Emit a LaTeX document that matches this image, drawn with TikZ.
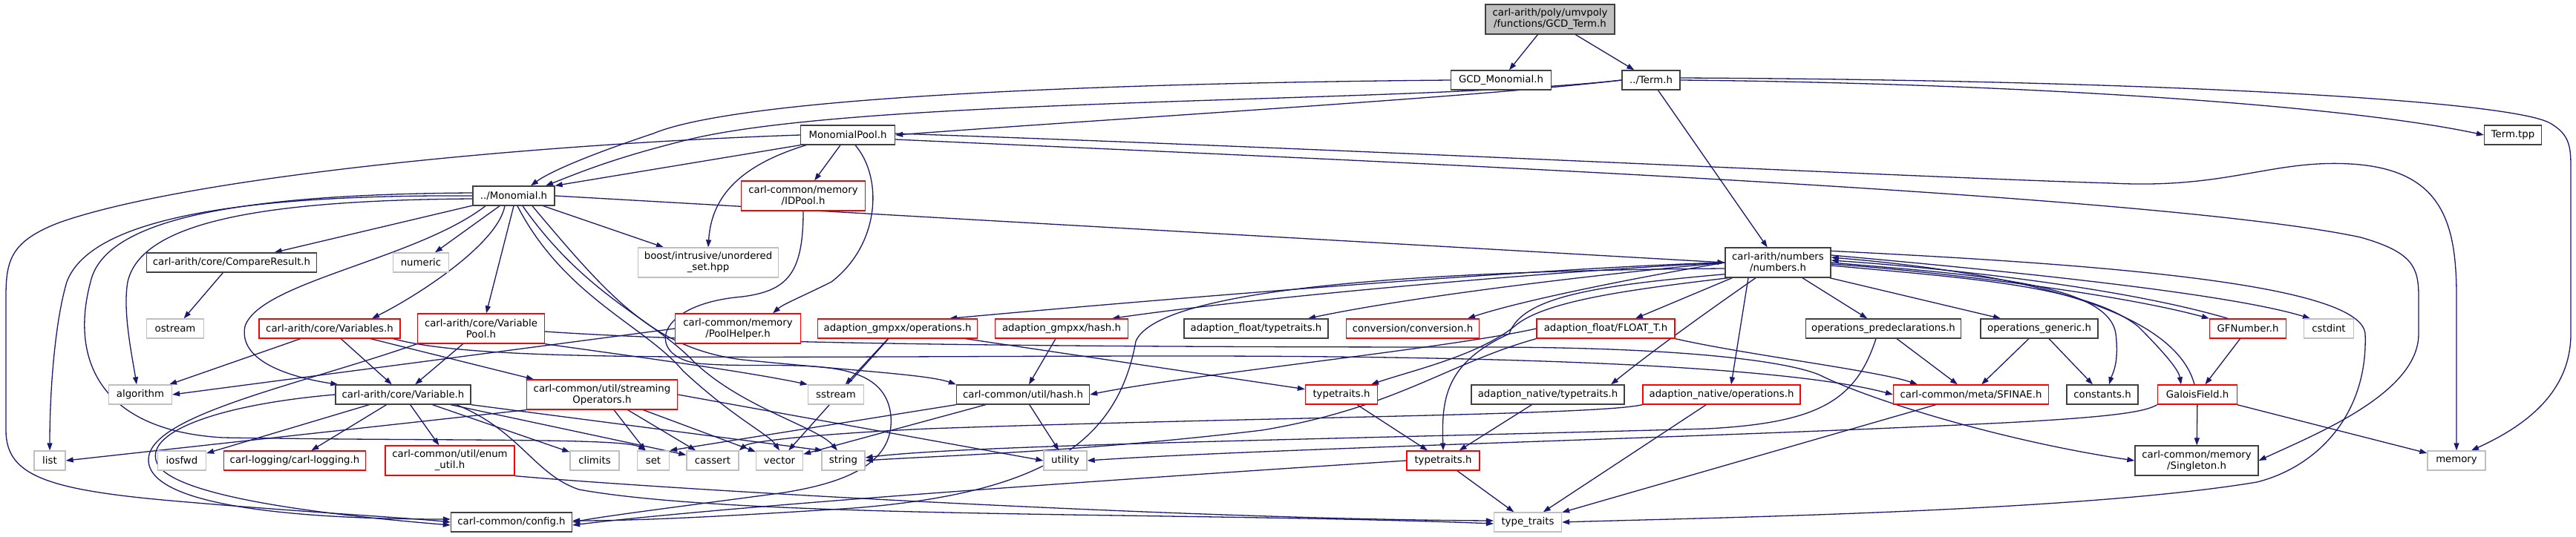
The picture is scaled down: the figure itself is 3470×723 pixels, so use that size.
\documentclass[tikz,border=0pt]{standalone}
\usepackage{fontspec}
\usetikzlibrary{arrows.meta,calc}
\newfontfamily\djfont{DejaVu Sans}
\newcommand\nodefnt{\djfont\fontsize{13.3}{15}\selectfont}
\definecolor{mb}{HTML}{191970}
\definecolor{rd}{HTML}{FF0000}
\definecolor{gy}{HTML}{BFBFBF}
\definecolor{dk}{HTML}{404040}
\pgfdeclarelayer{back}
\pgfdeclarelayer{bg}
\pgfsetlayers{back,bg,main}
\tikzset{
  base/.style={rectangle, inner sep=0pt, minimum height=26pt, font=\nodefnt, line width=1.3pt, align=center, fill=white},
  blk/.style={base, draw=dk},
  rbox/.style={base, draw=rd},
  gbox/.style={base, draw=gy},
  root/.style={base, draw=dk, fill=gy},
  two/.style={minimum height=40pt},
  edg/.style={draw=mb, line width=1.3pt, -{Triangle[length=10pt,width=7pt]}},
}
\begin{document}
\begin{tikzpicture}[x=1pt,y=-1pt]
\begin{pgfonlayer}{back}
\fill[white] (0,0) rectangle (3470,723);
\end{pgfonlayer}
\useasboundingbox (0,0) rectangle (3470,723);
% rank 0
\node[root,two,minimum width=174pt] (gcdterm) at (2088,26) {carl-arith/poly/umvpoly\\/functions/GCD\_Term.h};
% rank 1
\node[blk,minimum width=135pt] (gcdmono) at (2022,108) {GCD\_Monomial.h};
\node[blk,minimum width=78pt] (term) at (2224,108) {../Term.h};
% rank 2
\node[blk,minimum width=127pt] (mpool) at (1142,182) {MonomialPool.h};
\node[blk,minimum width=77pt] (termtpp) at (3385,182) {Term.tpp};
% rank 3
\node[blk,minimum width=110pt] (mono) at (692,264) {../Monomial.h};
\node[rbox,two,minimum width=167pt] (idpool) at (1082,264) {carl-common/memory\\/IDPool.h};
% rank 4
\node[blk,minimum width=229pt] (cmp) at (312,354) {carl-arith/core/CompareResult.h};
\node[gbox,minimum width=75pt] (numeric) at (567,354) {numeric};
\node[gbox,two,minimum width=189pt] (boost) at (954,354) {boost/intrusive/unordered\\\_set.hpp};
\node[blk,two,minimum width=142pt] (numbers) at (2395,354) {carl-arith/numbers\\/numbers.h};
% rank 5
\node[gbox,minimum width=77pt] (ostream) at (236,443) {ostream};
\node[rbox,minimum width=190pt] (vars) at (444,443) {carl-arith/core/Variables.h};
\node[rbox,two,minimum width=171pt] (vpool) at (648,443) {carl-arith/core/Variable\\Pool.h};
\node[rbox,two,minimum width=169pt] (phelper) at (994,443) {carl-common/memory\\/PoolHelper.h};
\node[rbox,minimum width=215pt] (gmpops) at (1209,443) {adaption\_gmpxx/operations.h};
\node[rbox,minimum width=179pt] (gmphash) at (1430,443) {adaption\_gmpxx/hash.h};
\node[blk,minimum width=194pt] (floattt) at (1692,443) {adaption\_float/typetraits.h};
\node[rbox,minimum width=179pt] (conv) at (1903,443) {conversion/conversion.h};
\node[rbox,minimum width=186pt] (floatt) at (2163,443) {adaption\_float/FLOAT\_T.h};
\node[blk,minimum width=209pt] (opspre) at (2537,443) {operations\_predeclarations.h};
\node[blk,minimum width=158pt] (opsgen) at (2747,443) {operations\_generic.h};
\node[rbox,minimum width=103pt] (gfnum) at (3028,443) {GFNumber.h};
\node[gbox,minimum width=67pt] (cstdint) at (3137,443) {cstdint};
% rank 6
\node[gbox,minimum width=85pt] (algorithm) at (189,532) {algorithm};
\node[blk,minimum width=182pt] (var) at (543,532) {carl-arith/core/Variable.h};
\node[rbox,two,minimum width=203pt] (stream) at (811,532) {carl-common/util/streaming\\Operators.h};
\node[gbox,minimum width=75pt] (sstream) at (1126,532) {sstream};
\node[blk,minimum width=179pt] (uhash) at (1378,532) {carl-common/util/hash.h};
\node[rbox,minimum width=97pt] (tt1) at (1807,532) {typetraits.h};
\node[blk,minimum width=206pt] (ntt) at (2085,532) {adaption\_native/typetraits.h};
\node[rbox,minimum width=212pt] (nops) at (2319,532) {adaption\_native/operations.h};
\node[rbox,minimum width=209pt] (sfinae) at (2655,532) {carl-common/meta/SFINAE.h};
\node[blk,minimum width=96pt] (consts) at (2832,532) {constants.h};
\node[rbox,minimum width=107pt] (gf) at (2960,532) {GaloisField.h};
% rank 7
\node[gbox,minimum width=42pt] (list) at (67,621) {list};
\node[gbox,minimum width=65pt] (iosfwd) at (245,621) {iosfwd};
\node[rbox,minimum width=191pt] (logging) at (397,621) {carl-logging/carl-logging.h};
\node[rbox,two,minimum width=174pt] (enumu) at (606,621) {carl-common/util/enum\\\_util.h};
\node[gbox,minimum width=66pt] (climits) at (801,621) {climits};
\node[gbox,minimum width=43pt] (set) at (880,621) {set};
\node[gbox,minimum width=70pt] (cassert) at (960,621) {cassert};
\node[gbox,minimum width=63pt] (vector) at (1050,621) {vector};
\node[gbox,minimum width=58pt] (string) at (1136,621) {string};
\node[gbox,minimum width=58pt] (utility) at (1435,621) {utility};
\node[rbox,minimum width=98pt] (tt2) at (1944,621) {typetraits.h};
\node[blk,two,minimum width=166pt] (singleton) at (2959,621) {carl-common/memory\\/Singleton.h};
\node[gbox,minimum width=78pt] (memory) at (3309,621) {memory};
% rank 8
\node[blk,minimum width=163pt] (config) at (689,704) {carl-common/config.h};
\node[gbox,minimum width=91pt] (typetraits) at (2058,704) {type\_traits};

\begin{pgfonlayer}{bg}
% top
\draw[edg] (gcdterm) -- (gcdmono);
\draw[edg] (gcdterm) -- (term);
\draw[edg] (gcdmono.west) .. controls (1500,112) and (1000,130) .. (880,180) .. controls (790,210) and (740,232) .. ($(mono.north)+(23,0)$);
\draw[edg] (term.west) .. controls (1900,140) and (1150,130) .. (920,190) .. controls (820,215) and (775,235) .. ($(mono.north)+(43,0)$);
\draw[edg] (term.west) .. controls (2000,130) and (1500,160) .. (mpool.east);
\draw[edg] (term) -- (numbers);
\draw[edg] (term.east) .. controls (2700,112) and (3150,140) .. (termtpp.west);
\draw[edg] ($(term.east)+(0,-3)$) .. controls (2900,108) and (3380,135) .. (3435,166) .. controls (3463,182) and (3463,200) .. (3463,230) -- (3463,450) .. controls (3463,530) and (3400,575) .. ($(memory.north)+(20,0)$);
% MonomialPool
\draw[edg] (mpool.south west) -- (mono.north east);
\draw[edg] (mpool) -- (idpool);
\draw[edg] ($(mpool.south west)+(8,0)$) .. controls (990,225) and (958,270) .. (boost.north);
\draw[edg] ($(mpool.south)+(10,0)$) .. controls (1190,240) and (1185,330) .. (1120,380) .. controls (1080,400) and (1055,410) .. ($(phelper.north)+(47,0)$);
\draw[edg] (mpool.west) .. controls (700,195) and (250,240) .. (80,300) .. controls (15,325) and (8,350) .. (8,400) -- (8,580) .. controls (8,640) and (60,660) .. (230,675) .. controls (400,690) and (550,698) .. (config.west);
\draw[edg] ($(mpool.east)+(0,6)$) .. controls (1800,215) and (2900,260) .. (3180,320) .. controls (3250,340) and (3258,360) .. (3258,400) -- (3258,450) .. controls (3258,530) and (3120,585) .. (singleton.east);
\draw[edg] ($(mpool.east)+(0,-2)$) .. controls (1800,200) and (2600,240) .. (2845,247) .. controls (3000,255) and (3060,215) .. (3166,221) .. controls (3290,228) and (3309,300) .. (3309,400) -- (memory.north);
\draw[edg] (idpool.south) .. controls (1082,370) and (1060,392) .. (1000,400) .. controls (880,410) and (870,480) .. (940,490) .. controls (1050,500) and (1190,470) .. (1200,560) .. controls (1205,620) and (1150,650) .. (1050,665) .. controls (900,685) and (820,695) .. (config.east);
% Monomial
\draw[edg] (mono.east) -- (numbers.west);
\draw[edg] (mono) -- (cmp);
\draw[edg] (mono) -- (numeric);
\draw[edg] (mono) -- (boost);
\draw[edg] ($(mono.south)+(-12,0)$) .. controls (670,330) and (560,400) .. ($(vars.north)+(57,0)$);
\draw[edg] (mono.south) -- ($(vpool.north)+(7,0)$);
\draw[edg] ($(mono.south)+(-38,0)$) .. controls (560,350) and (350,380) .. (330,440) .. controls (320,490) and (400,510) .. ($(var.north west)+(4,0)$);
\draw[edg] (mono.west) .. controls (300,262) and (120,300) .. (90,380) .. controls (75,430) and (67,520) .. (list.north);
\draw[edg] ($(mono.west)+(0,4)$) .. controls (350,270) and (190,300) .. (172,380) .. controls (165,420) and (178,480) .. ($(algorithm.north)+(-5,0)$);
\draw[edg] ($(mono.west)+(0,-4)$) .. controls (300,262) and (140,300) .. (122,380) .. controls (95,480) and (130,580) .. (300,590) .. controls (600,595) and (840,590) .. ($(set.north)+(-10,0)$);
\draw[edg] ($(mono.south)+(5,0)$) .. controls (760,400) and (870,440) .. (920,500) .. controls (990,565) and (1035,585) .. (vector.north);
\draw[edg] ($(mono.south)+(12,0)$) .. controls (790,400) and (880,430) .. (935,488) .. controls (1000,550) and (1100,575) .. ($(string.north)+(-8,0)$);
\draw[edg] ($(mono.south)+(25,0)$) .. controls (820,400) and (880,470) .. (1000,485) .. controls (1150,500) and (1250,505) .. (uhash.north west);
\draw[edg] (cmp) -- (ostream);
% Variables / VariablePool / PoolHelper
\draw[edg] (vars) -- (algorithm);
\draw[edg] (vars) -- (var);
\draw[edg] ($(vars.south)+(55,0)$) -- ($(stream.north)+(-92,0)$);
\draw[edg] ($(vars.south east)+(-10,0)$) .. controls (650,490) and (1000,480) .. (1600,480) .. controls (2200,480) and (2450,505) .. (sfinae.west);
\draw[edg] (vpool) -- (var);
\draw[edg] (vpool.south west) .. controls (400,520) and (200,560) .. (200,620) .. controls (200,690) and (450,700) .. ($(config.west)+(0,-4)$);
\draw[edg] (vpool.south east) .. controls (850,480) and (1000,500) .. (sstream.north west);
\draw[edg] ($(vpool.east)+(0,4)$) .. controls (1000,465) and (1500,468) .. (2000,468) .. controls (2250,468) and (2400,485) .. (2450,505) .. controls (2520,540) and (2700,595) .. (singleton.west);
\draw[edg] (phelper.west) -- (algorithm.east);
% Variable
\draw[edg] (var) -- (iosfwd);
\draw[edg] (var) -- (logging);
\draw[edg] (var) -- (enumu);
\draw[edg] (var) -- (climits);
\draw[edg] (var) -- (cassert);
\draw[edg] (var.south east) -- ($(string.north)+(-28,0)$);
\draw[edg] (var.west) .. controls (300,545) and (200,580) .. (210,620) .. controls (220,670) and (450,695) .. ($(config.west)+(0,4)$);
\draw[edg] ($(var.south east)+(-20,0)$) .. controls (700,580) and (720,640) .. (780,660) .. controls (1000,700) and (1600,690) .. ($(typetraits.west)+(0,2)$);
% streamingOperators
\draw[edg] (stream.south west) -- (list.east);
\draw[edg] (stream) -- (set);
\draw[edg] (stream) -- (cassert);
\draw[edg] (stream) -- (vector);
\draw[edg] (stream.east) -- (utility.west);
\draw[edg] (enumu.south east) .. controls (900,660) and (1600,700) .. ($(typetraits.west)+(0,-2)$);
% util/hash
\draw[edg] (uhash) -- (utility);
\draw[edg] (uhash.south west) -- (set.north east);
\draw[edg] (uhash) -- (vector);
% gmpxx
\draw[edg] (gmpops) -- (sstream);
\draw[edg] (gmpops) -- (tt1);
\draw[edg] (gmpops) -- (vector);
\draw[edg] (gmphash) -- (uhash);
% numbers
\draw[edg] (numbers.west) .. controls (2100,360) and (1600,400) .. ($(gmpops.north)+(70,0)$);
\draw[edg] (numbers.west) .. controls (2100,365) and (1700,400) .. ($(gmphash.north)+(68,0)$);
\draw[edg] (numbers.west) .. controls (2150,370) and (1900,400) .. ($(floattt.north)+(70,0)$);
\draw[edg] (numbers.west) .. controls (2200,375) and (2050,405) .. ($(conv.north)+(74,0)$);
\draw[edg] ($(numbers.south west)+(10,0)$) -- ($(floatt.north)+(40,0)$);
\draw[edg] ($(numbers.south west)+(5,0)$) .. controls (2200,390) and (2080,405) .. (2040,440) .. controls (1990,480) and (1900,500) .. ($(tt1.north)+(40,0)$);
\draw[edg] ($(numbers.south west)+(0,-5)$) .. controls (2150,385) and (2050,400) .. (2033,450) .. controls (1945,490) and (1942,540) .. (tt2.north);
\draw[edg] ($(numbers.south)+(-30,0)$) .. controls (2300,420) and (2230,470) .. ($(ntt.north)+(85,0)$);
\draw[edg] ($(numbers.south)+(-40,0)$) -- ($(nops.north)+(13,0)$);
\draw[edg] (numbers) -- (opspre);
\draw[edg] ($(numbers.south east)+(-2,0)$) -- ($(opsgen.north)+(-52,0)$);
\draw[edg] (numbers.east) .. controls (2650,370) and (2840,380) .. (2850,450) .. controls (2855,490) and (2845,505) .. ($(consts.north)+(9,0)$);
\draw[edg] ($(numbers.east)+(0,2)$) .. controls (2600,365) and (2850,395) .. (gfnum.north west);
\draw[edg] ($(gfnum.north)+(-27,0)$) .. controls (2850,385) and (2600,360) .. ($(numbers.east)+(0,-3)$);
\draw[edg] ($(numbers.east)+(0,4)$) .. controls (2650,375) and (2810,385) .. (2880,440) .. controls (2920,480) and (2935,500) .. ($(gf.north)+(-22,0)$);
\draw[edg] ($(gf.north)+(-4,0)$) .. controls (2935,440) and (2800,375) .. ($(numbers.east)+(0,-7)$);
\draw[edg] ($(numbers.east)+(0,-10)$) .. controls (2700,365) and (3000,395) .. ($(cstdint.north)+(-25,0)$);
\draw[edg] ($(numbers.north east)+(0,5)$) .. controls (2800,355) and (3180,380) .. (3186,450) .. controls (3190,560) and (3120,630) .. (3040,650) .. controls (2800,690) and (2300,698) .. (typetraits.east);
\draw[edg] ($(numbers.west)+(0,8)$) .. controls (1900,365) and (1560,390) .. (1530,460) .. controls (1505,600) and (1400,665) .. (1150,685) .. controls (950,698) and (850,702) .. ($(config.east)+(0,-2)$);
% FLOAT_T
\draw[edg] (floatt.west) .. controls (1950,470) and (1600,505) .. (uhash.east);
\draw[edg] (floatt.south west) .. controls (1950,490) and (1880,550) .. (1700,580) .. controls (1450,610) and (1250,615) .. (string.east);
\draw[edg] (floatt.south east) .. controls (2350,478) and (2530,500) .. ($(sfinae.north)+(-72,0)$);
% operations
\draw[edg] (opspre) -- (sfinae);
\draw[edg] ($(opspre.south)+(-10,0)$) .. controls (2500,540) and (2450,570) .. (2300,578) .. controls (1800,592) and (1300,600) .. ($(string.east)+(0,-4)$);
\draw[edg] (opsgen) -- (sfinae);
\draw[edg] (opsgen) -- (consts);
% GF
\draw[edg] (gfnum) -- (gf);
\draw[edg] (gf) -- (singleton);
\draw[edg] (gf) -- (memory);
\draw[edg] (gf.south west) .. controls (2890,555) and (2850,562) .. (2700,570) .. controls (2300,590) and (1700,605) .. (utility.east);
% remaining
\draw[edg] (sfinae) -- (typetraits);
\draw[edg] (tt1) -- (tt2);
\draw[edg] (ntt) -- (tt2);
\draw[edg] (nops) -- (typetraits);
\draw[edg] (nops.south west) .. controls (2150,560) and (1700,562) .. (1250,578) .. controls (1100,585) and (1010,595) .. (cassert.north east);
\draw[edg] (tt2) -- (typetraits);
\draw[edg] (tt2.west) .. controls (1600,640) and (1000,680) .. ($(config.east)+(0,4)$);
\end{pgfonlayer}
\end{tikzpicture}
\end{document}
